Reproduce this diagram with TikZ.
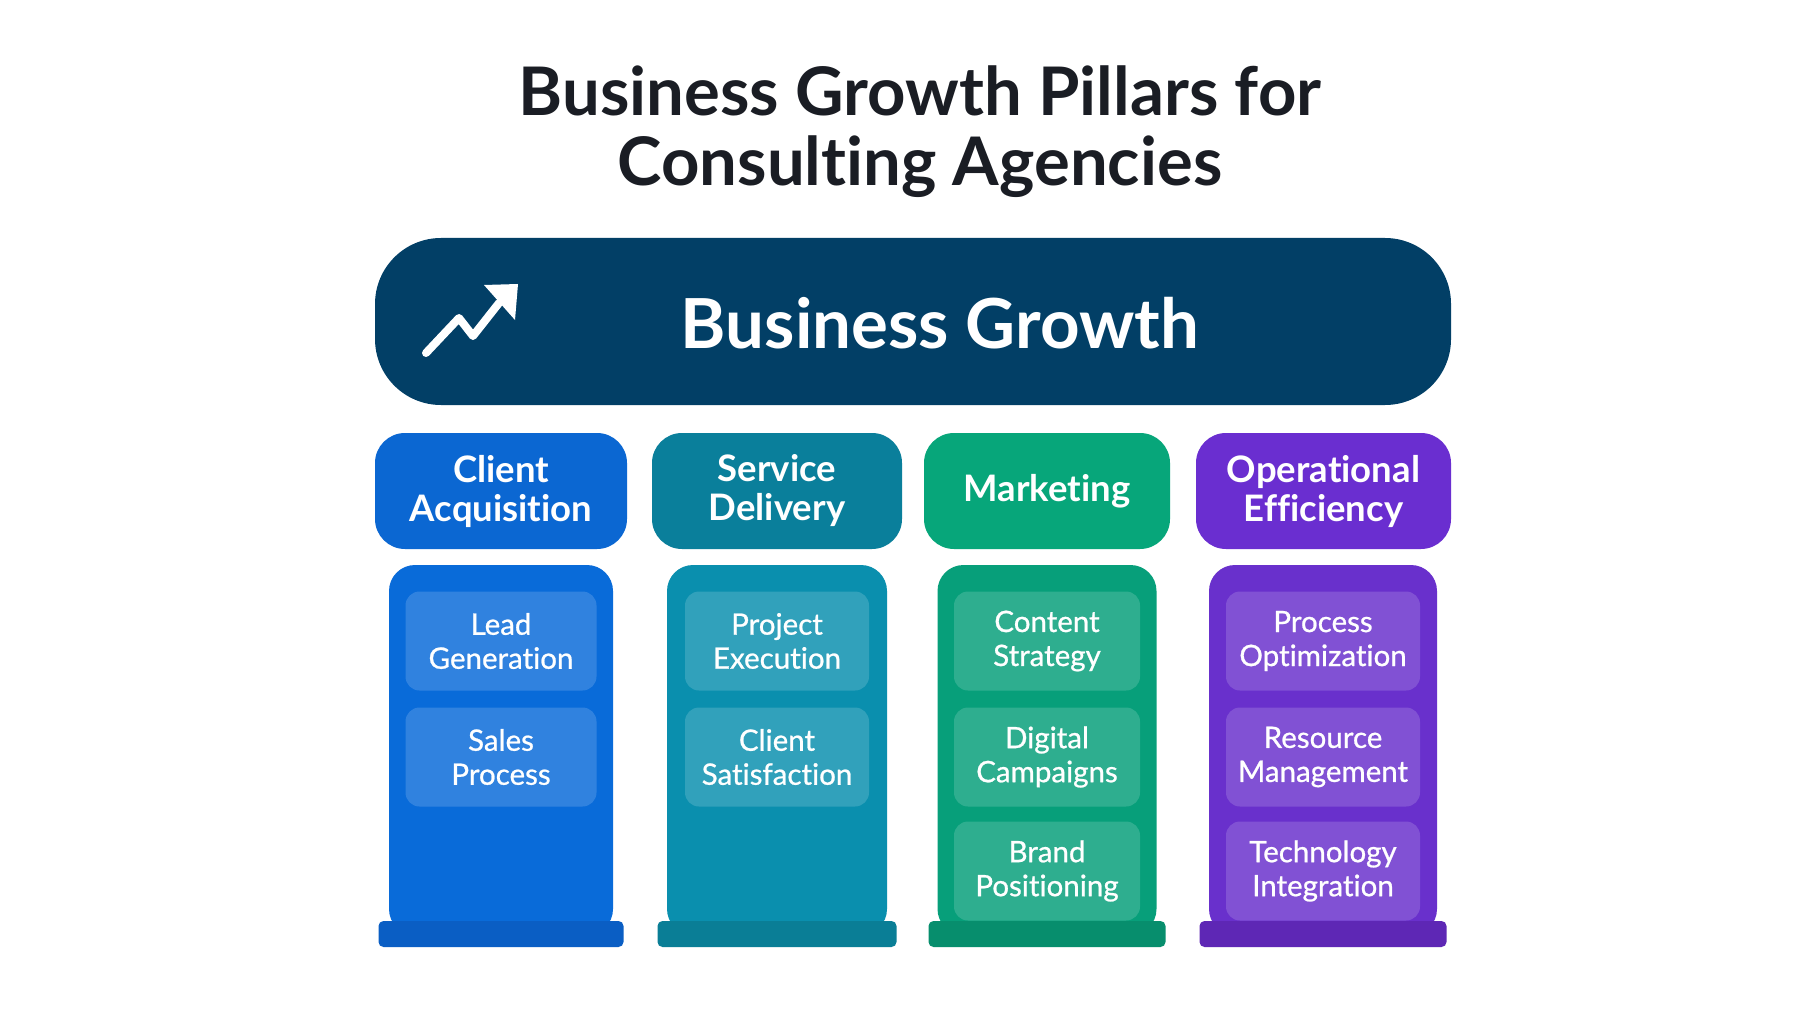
\documentclass[tikz,border=0pt]{standalone}
\usepackage{fontspec}
\setmainfont{Lato}[Ligatures=NoCommon]
\newfontfamily\itemfont{Lato}[Ligatures=NoCommon,FakeBold=0.8]
\usetikzlibrary{positioning}
\definecolor{titleink}{HTML}{1A1D24}
\definecolor{growthnavy}{HTML}{023F66}
\definecolor{acqhead}{HTML}{0B67D2}\definecolor{acqbody}{HTML}{096BD9}\definecolor{acqbase}{HTML}{0A5EC4}
\definecolor{delhead}{HTML}{0A7F9B}\definecolor{delbody}{HTML}{0A8FAE}\definecolor{delbase}{HTML}{0A7E96}
\definecolor{mkthead}{HTML}{07A67A}\definecolor{mktbody}{HTML}{079F7A}\definecolor{mktbase}{HTML}{078E6D}
\definecolor{opshead}{HTML}{6A2ED0}\definecolor{opsbody}{HTML}{6930CC}\definecolor{opsbase}{HTML}{5E27B5}
\tikzset{
  pillarhead/.style={rectangle,rounded corners=30pt,minimum height=116pt,inner sep=0pt,align=center,
    text=white,font=\fontsize{36.5}{39}\selectfont\bfseries},
  pillarbody/.style={rectangle,rounded corners=26pt,minimum height=370pt,inner sep=0pt},
  pillarbase/.style={rectangle,rounded corners=5pt,minimum height=26pt,inner sep=0pt},
  pillaritem/.style={rectangle,rounded corners=14pt,minimum height=99pt,inner sep=0pt,align=center,
    fill=white,fill opacity=0.16,text opacity=1,text=white,font=\itemfont\fontsize{29.5}{34}\selectfont},
}
\begin{document}
\begin{tikzpicture}[x=1pt,y=-1pt]
  \fill[white] (0,0) rectangle (1820,1024);
  \useasboundingbox (0,0) rectangle (1820,1024);
  % title
  \node[align=center,text=titleink,font=\fontsize{67}{70}\selectfont\bfseries] (title) at (920,132)
    {Business Growth Pillars for\\Consulting Agencies};
  % banner
  \node[fill=growthnavy,rounded corners=66pt,minimum width=1076pt,minimum height=167pt] (growth) at (913,321.5) {};
  \node[text=white,font=\fontsize{69}{72}\selectfont\bfseries] (growthlbl) at (940,323) {Business Growth};
  \coordinate (i0) at (426,353);\coordinate (i1) at (459,318);\coordinate (i2) at (473,336);\coordinate (i3) at (499,303);
  \draw[white,line width=8pt,line join=round,line cap=round] (i0) -- (i1) -- (i2) -- (i3);
  \fill[white] (484,285) -- (518,284) -- (515,320) -- cycle;
  % headers
  \node[pillarhead,fill=acqhead,minimum width=252pt] (acq) at (501,491) {Client\\Acquisition};
  \node[pillarhead,fill=delhead,minimum width=250pt] (del) at (777,491) {Service\\Delivery};
  \node[pillarhead,fill=mkthead,minimum width=246pt] (mkt) at (1047,491) {Marketing};
  \node[pillarhead,fill=opshead,minimum width=255pt] (ops) at (1323.5,491) {Operational\\Efficiency};
  % pillars
  \node[pillarbody,fill=acqbody,minimum width=224pt] (acqcol) at (501,750) {};
  \node[pillarbody,fill=delbody,minimum width=220pt] (delcol) at (777,750) {};
  \node[pillarbody,fill=mktbody,minimum width=219pt] (mktcol) at (1047,750) {};
  \node[pillarbody,fill=opsbody,minimum width=228pt] (opscol) at (1323,750) {};
  \node[pillarbase,fill=acqbase,minimum width=245pt] (acqfoot) at (501,934) {};
  \node[pillarbase,fill=delbase,minimum width=239pt] (delfoot) at (777,934) {};
  \node[pillarbase,fill=mktbase,minimum width=237pt] (mktfoot) at (1047,934) {};
  \node[pillarbase,fill=opsbase,minimum width=247pt] (opsfoot) at (1323,934) {};
  % items
  \node[pillaritem,minimum width=191pt] (lead) at (501,641) {Lead\\Generation};
  \node[pillaritem,minimum width=191pt] (sales) at (501,757) {Sales\\Process};
  \node[pillaritem,minimum width=184pt] (proj) at (777,641) {Project\\Execution};
  \node[pillaritem,minimum width=184pt] (sat) at (777,757) {Client\\Satisfaction};
  \node[pillaritem,minimum width=186pt] (content) at (1047,641) {Content\\Strategy};
  \node[pillaritem,minimum width=186pt] (digital) at (1047,757) {Digital\\Campaigns};
  \node[pillaritem,minimum width=186pt] (brand) at (1047,871) {Brand\\Positioning};
  \node[pillaritem,minimum width=194pt] (procopt) at (1323,641) {Process\\Optimization};
  \node[pillaritem,minimum width=194pt] (resmgmt) at (1323,757) {Resource\\Management};
  \node[pillaritem,minimum width=194pt] (techint) at (1323,871) {Technology\\Integration};
\end{tikzpicture}
\end{document}
